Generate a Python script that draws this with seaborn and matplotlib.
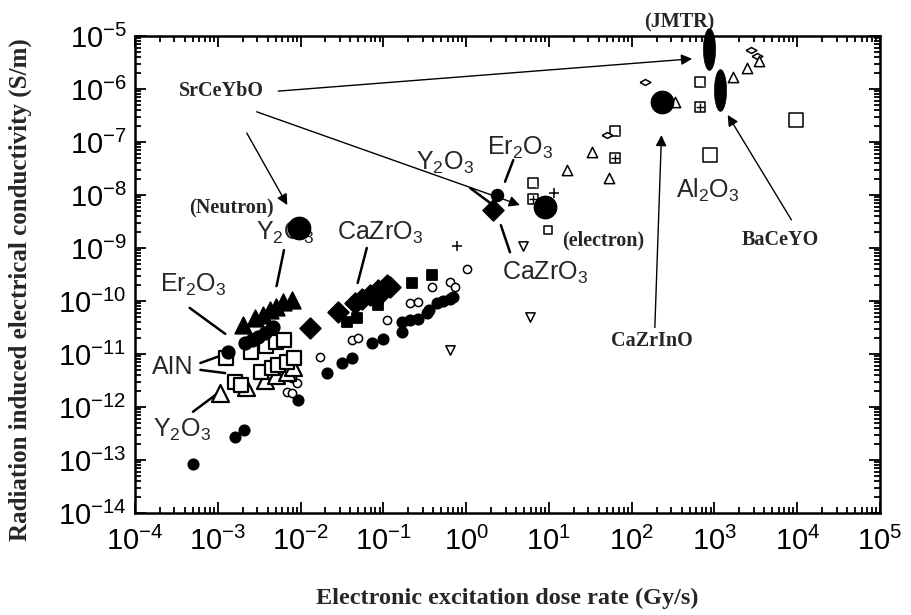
import numpy as np
import pandas as pd
import matplotlib
matplotlib.use("Agg")
import matplotlib.pyplot as plt
import seaborn as sns
from matplotlib.ticker import LogLocator, NullFormatter

# ---------------- data (dose rate Gy/s, conductivity S/m) ----------------
tri_fill_x = [0.0020, 0.0028, 0.0035, 0.0043, 0.0051, 0.0062, 0.0079]
tri_fill_y = [3.5e-11, 4.8e-11, 5.5e-11, 6.8e-11, 7.8e-11, 9.5e-11, 1.05e-10]

er_circ_x = [0.00132, 0.00214, 0.00257, 0.0031, 0.0037, 0.0045, 0.0047]
er_circ_y = [1.1e-11, 1.6e-11, 1.8e-11, 2.1e-11, 2.5e-11, 3.1e-11, 3.2e-11]

aln_sq_x = [0.00126, 0.0025, 0.0038, 0.0051, 0.0063, 0.0033, 0.0045, 0.0053,
            0.0069, 0.0083, 0.0016, 0.0019]
aln_sq_y = [8.3e-12, 1.1e-11, 1.4e-11, 1.7e-11, 1.8e-11, 4.6e-12, 5.5e-12, 6.2e-12,
            7.1e-12, 8.3e-12, 3.0e-12, 2.6e-12]

tri_open_x = [0.00107, 0.0022, 0.0037, 0.0051, 0.0069, 0.0081]
tri_open_y = [1.8e-12, 2.4e-12, 3.2e-12, 4.0e-12, 4.6e-12, 5.6e-12]

circ_open_x = [0.0079, 0.0091, 0.0069, 0.0079, 0.017, 0.042, 0.049, 0.11, 0.21,
               0.26, 0.39, 0.63, 0.73, 1.02]
circ_open_y = [3.5e-12, 2.8e-12, 1.9e-12, 1.8e-12, 8.7e-12, 1.8e-11, 2.0e-11,
               4.4e-11, 9.1e-11, 9.5e-11, 1.8e-10, 2.3e-10, 1.8e-10, 4.0e-10]

dot_x = [0.0005, 0.0016, 0.0021, 0.0093, 0.021, 0.032, 0.042, 0.073, 0.099, 0.17,
         0.17, 0.21, 0.26, 0.34, 0.36, 0.44, 0.53, 0.63, 0.69]
dot_y = [8.4e-14, 2.7e-13, 3.7e-13, 1.35e-12, 4.4e-12, 6.8e-12, 8.4e-12, 1.6e-11,
         1.9e-11, 2.6e-11, 4.0e-11, 4.4e-11, 4.6e-11, 5.9e-11, 6.8e-11, 9.1e-11,
         1.0e-10, 1.1e-10, 1.2e-10]

dia_fill_x = [0.013, 0.028, 0.045, 0.055, 0.069, 0.086, 0.095, 0.11, 0.12, 2.1]
dia_fill_y = [3.1e-11, 6.2e-11, 9.1e-11, 1.1e-10, 1.3e-10, 1.6e-10, 1.4e-10,
              2.0e-10, 1.8e-10, 5.2e-9]

sq_fill_x = [0.036, 0.048, 0.086, 0.22, 0.39]
sq_fill_y = [4.0e-11, 4.8e-11, 8.4e-11, 2.2e-10, 3.1e-10]

plus_x = [0.78, 11.5]
plus_y = [1.1e-9, 1.1e-8]

vtri_x = [0.63, 4.9, 5.9]
vtri_y = [1.2e-11, 1.1e-9, 5.0e-11]

er_e_x = [2.35]
er_e_y = [1.0e-8]

big_x = [0.0095, 8.9, 230]
big_y = [2.4e-9, 5.9e-9, 5.7e-7]

hatch_x = [6.4, 63, 665]
hatch_y = [1.7e-8, 1.6e-7, 1.35e-6]

grid_x = [6.4, 63, 665]
grid_y = [8.4e-9, 5.0e-8, 4.6e-7]

sq_small_x = [9.7]
sq_small_y = [2.2e-9]

dia_open_x = [50, 144, 2800, 3240]
dia_open_y = [1.35e-7, 1.35e-6, 5.5e-6, 4.2e-6]

tri_small_x = [16.5, 33, 53, 330, 1670, 3500, 2500]
tri_small_y = [3.0e-8, 6.5e-8, 2.1e-8, 5.7e-7, 1.7e-6, 3.4e-6, 2.5e-6]

sq_big_x = [880, 9600]
sq_big_y = [5.6e-8, 2.6e-7]

ell_x = [870, 1170]
ell_y = [5.7e-6, 9.6e-7]

x_ticks = [10.0 ** k for k in range(-4, 6)]
y_ticks = [10.0 ** k for k in range(-14, -4)]

# ---------------- style ----------------
sns.set_style("ticks")
plt.rcParams["font.family"] = ["Liberation Sans", "DejaVu Sans"]
plt.rcParams["mathtext.fontset"] = "custom"
plt.rcParams["mathtext.rm"] = "Liberation Sans"
plt.rcParams["mathtext.it"] = "Liberation Sans"
plt.rcParams["mathtext.bf"] = "Liberation Sans:bold"

fig = plt.figure(figsize=(9.11, 6.15), dpi=100)
ax = fig.add_axes([135 / 911, 1 - 513 / 615, 745 / 911, 477 / 615])
ax.set_xscale("log")
ax.set_yscale("log")


def pts(x, y, marker, s, filled=True, lw=1.3, z=3, clip=True):
    df = pd.DataFrame({"x": x, "y": y})
    kw = dict(data=df, x="x", y="y", ax=ax, marker=marker, s=s, zorder=z,
              linewidth=lw, legend=False)
    if filled == "line":
        kw.update(color="black")
    elif filled:
        kw.update(color="black", edgecolor="black")
    else:
        kw.update(color="white", edgecolor="black")
    art = sns.scatterplot(**kw)
    art.collections[-1].set_clip_on(clip)


flat_diamond = [(-1, 0), (0, 0.55), (1, 0), (0, -0.55), (-1, 0)]

pts(dot_x, dot_y, "o", 55)
pts(circ_open_x, circ_open_y, "o", 35, filled=False, lw=1.1)
pts(tri_open_x, tri_open_y, "^", 150, filled=False, lw=1.6)
pts(aln_sq_x, aln_sq_y, "s", 110, filled=False, lw=1.6)
pts(er_circ_x, er_circ_y, "o", 80)
pts(tri_fill_x, tri_fill_y, "^", 140)
pts(dia_fill_x, dia_fill_y, "D", 110)
pts(sq_fill_x, sq_fill_y, "s", 60)
pts(plus_x, plus_y, "+", 60, filled="line", lw=1.1)
pts(vtri_x, vtri_y, "v", 45, filled=False, lw=1.1)
pts(er_e_x, er_e_y, "o", 70)
pts(hatch_x, hatch_y, "s", 45, filled=False, lw=1.1)
pts(hatch_x, hatch_y, [(-1, 1), (1, -1)], 30, filled="line", lw=1.0)
pts(grid_x, grid_y, "s", 45, filled=False, lw=1.1)
pts(grid_x, grid_y, "+", 30, filled="line", lw=1.0)
pts(sq_small_x, sq_small_y, "s", 40, filled=False, lw=1.1)
pts(dia_open_x, dia_open_y, flat_diamond, 60, filled=False, lw=1.1)
pts(tri_small_x, tri_small_y, "^", 55, filled=False, lw=1.1)
pts(sq_big_x, sq_big_y, "s", 90, filled=False, lw=1.1)
pts(big_x, big_y, "o", 250, z=6)
t = np.linspace(0, 2 * np.pi, 80)
ell_marker = list(zip(0.29 * np.cos(t), np.sin(t)))
pts(ell_x, ell_y, ell_marker, 900, z=6, lw=0.5, clip=False)

ax.set_xlim(x_ticks[0], x_ticks[-1])
ax.set_ylim(y_ticks[0], y_ticks[-1])
ax.set_xlabel("")
ax.set_ylabel("")
ax.xaxis.set_major_locator(LogLocator(base=10, numticks=20))
ax.yaxis.set_major_locator(LogLocator(base=10, numticks=20))
ax.xaxis.set_minor_locator(LogLocator(base=10, subs=np.arange(2, 10), numticks=20))
ax.yaxis.set_minor_locator(LogLocator(base=10, subs=np.arange(2, 10), numticks=20))
ax.xaxis.set_minor_formatter(NullFormatter())
ax.yaxis.set_minor_formatter(NullFormatter())
ax.tick_params(which="both", direction="in", top=True, right=True, labelsize=21,
               width=1.3, colors="black")
ax.tick_params(which="major", length=8)
ax.tick_params(which="minor", length=4)
ax.tick_params(axis="x", pad=10)
ax.tick_params(axis="y", pad=6)
for sp in ax.spines.values():
    sp.set_linewidth(1.8)
    sp.set_color("black")

serif = dict(family=["Liberation Serif", "DejaVu Serif"], weight="bold")
fig.text(0.5 * (135 + 880) / 911, 1 - 598 / 615,
         "Electronic excitation dose rate (Gy/s)", ha="center", va="center",
         fontsize=17.5, **serif)
fig.text(20 / 911, 1 - 290 / 615, "Radiation induced electrical conductivity (S/m)",
         ha="center", va="center", rotation=90, fontsize=18, **serif)

# sans labels
sans_labels = [
    (10 ** -2.19, 10 ** -8.72, r"Y$_2$O$_3$"),
    (10 ** -1.04, 10 ** -8.72, r"CaZrO$_3$"),
    (10 ** -3.30, 10 ** -9.70, r"Er$_2$O$_3$"),
    (10 ** -3.54, 10 ** -11.25, "AIN"),
    (10 ** -3.43, 10 ** -12.43, r"Y$_2$O$_3$"),
    (10 ** -0.26, 10 ** -7.40, r"Y$_2$O$_3$"),
    (10 ** 0.65, 10 ** -7.11, r"Er$_2$O$_3$"),
    (10 ** 0.95, 10 ** -9.47, r"CaZrO$_3$"),
    (10 ** 2.92, 10 ** -7.91, r"Al$_2$O$_3$"),
]
for x, y, s in sans_labels:
    ax.text(x, y, s, ha="center", va="center", fontsize=18, zorder=2)

serif_labels = [
    (10 ** -2.83, 10 ** -8.25, "(Neutron)"),
    (10 ** 2.58, 10 ** -4.74, "(JMTR)"),
    (10 ** 1.65, 10 ** -8.85, "(electron)"),
    (10 ** -2.95, 10 ** -6.04, "SrCeYbO"),
    (10 ** 3.79, 10 ** -8.85, "BaCeYO"),
    (10 ** 2.24, 10 ** -10.75, "CaZrInO"),
]
for x, y, s in serif_labels:
    ax.text(x, y, s, ha="center", va="center", fontsize=14.5, zorder=2,
            clip_on=False, **serif)

# plain leader lines
leaders = [
    ((-2.20, -9.04), (-2.29, -9.72)),
    ((-3.34, -10.13), (-2.91, -10.62)),
    ((-3.21, -11.17), (-2.91, -11.00)),
    ((-3.21, -11.30), (-2.91, -11.36)),
    ((-3.30, -12.09), (-3.00, -11.74)),
    ((-1.20, -9.00), (-1.31, -9.66)),
    ((0.05, -7.87), (0.29, -8.15)),
    ((0.57, -7.34), (0.47, -7.75)),
    ((0.42, -8.57), (0.53, -9.08)),
]
for (a, b), (c, d) in leaders:
    ax.plot([10 ** a, 10 ** c], [10 ** b, 10 ** d], color="black", lw=1.8, zorder=2)

arrows = [
    ((-2.27, -6.04), (2.73, -5.43)),
    ((-2.53, -6.43), (0.65, -8.19)),
    ((-2.65, -6.83), (-2.16, -8.19)),
    ((2.28, -10.50), (2.36, -6.87)),
    ((3.93, -8.47), (3.16, -6.49)),
]
for (a, b), (c, d) in arrows:
    ax.annotate("", xy=(10 ** c, 10 ** d), xytext=(10 ** a, 10 ** b),
                arrowprops=dict(arrowstyle="-|>", color="black", lw=1.0,
                                mutation_scale=16, shrinkA=0, shrinkB=0),
                zorder=4)

fig.savefig("out.png", dpi=100, facecolor="white")
